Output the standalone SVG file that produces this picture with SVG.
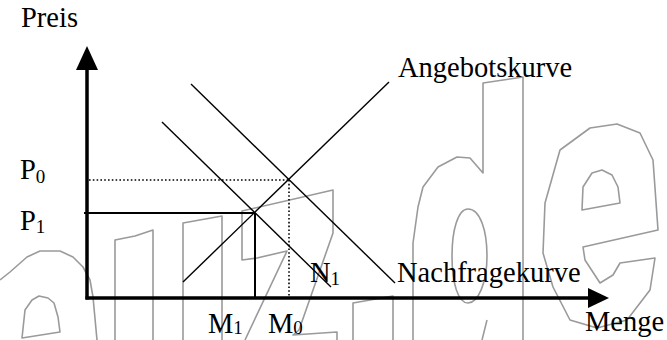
<svg xmlns="http://www.w3.org/2000/svg" width="667" height="340" viewBox="0 0 667 340">
<style>
.t{font-family:"Liberation Serif","Times New Roman",serif;font-size:28.5px;fill:#000}
.s{font-family:"Liberation Serif","Times New Roman",serif;font-size:19px;fill:#000}
.wm{fill:none;stroke:#9a9a9a;stroke-width:1.6;stroke-linejoin:round}
.ax{stroke:#000;stroke-width:3.5;fill:none}
.c{stroke:#000;stroke-width:1.4;fill:none}
.g{stroke:#000;stroke-width:2;fill:none}
.d{stroke:#000;stroke-width:1.6;fill:none;stroke-dasharray:1.6 2.2}
</style>
<rect width="667" height="340" fill="#fff"/>
<g id="watermark">
<path class="wm" d="M0,280 L10,272 L27,257 L40,251 L60,251 L73,257 L83,267 L90,280 L93,297 L97,340"/>
<path class="wm" d="M22,338 L25,310 L32,300 L39,296 L48,298 L54,303 L58,317 L60,332 Z"/>
<path class="wm" d="M115,340 L115,240 L135,236 L153,230 L153,340"/>
<path class="wm" d="M183,340 L183,223 L222,216 L222,340"/>
<path class="wm" d="M245,340 L287,251 L257,258 L242,260 L242,211 L333,190 L333,233 L299,330 L293,335 L337,332 L337,340"/>
<path class="wm" d="M353,340 L353,303 L393,296 L393,340"/>
<path class="wm" d="M413,340 L413,243 L418,207 L423,187 L438,167 L457,157 L470,158 L483,173 L483,83 L523,77 L523,340"/>
<path class="wm" d="M468,209 C480,209 487,230 487,256 C487,283 478,303 468,303 C458,303 452,283 452,256 C452,230 458,209 468,209 Z"/>
<path class="wm" d="M487,320 L482,340"/>
<path class="wm" d="M560,150 L590,128 L617,124 L640,133 L653,160 L658,230 L583,247 L585,260 L600,283 L613,275 L620,263 L655,258 L650,290 L627,320 L597,328 L570,320 L553,287 L543,253 L545,203 Z"/>
<path class="wm" d="M582,210 L583,187 L592,173 L602,170 L612,175 L618,187 L620,203 Z"/>
</g>
<g id="connectors">
<line class="d" x1="89" y1="180" x2="289" y2="180"/>
<line class="d" x1="289" y1="180" x2="289" y2="296"/>
<line class="g" x1="84" y1="213" x2="255" y2="213"/>
<line class="g" x1="255" y1="213" x2="255" y2="297"/>
<line class="c" x1="183" y1="282" x2="389" y2="82"/>
<line class="c" x1="191" y1="84" x2="395" y2="283"/>
<line class="c" x1="162" y1="122" x2="331" y2="287"/>
<line class="ax" x1="87" y1="299.5" x2="87" y2="68"/>
<line class="ax" x1="85.5" y1="298" x2="590" y2="298"/>
<polygon points="76,70 98,70 87,46" fill="#000"/>
<polygon points="588,288 588,308 609,298" fill="#000"/>
</g>
<g id="labels">
<text class="t" x="21" y="27">Preis</text>
<text class="t" x="398" y="77">Angebotskurve</text>
<text class="t" x="397" y="282">Nachfragekurve</text>
<text class="t" x="585" y="331">Menge</text>
<text class="t" x="20" y="179">P<tspan class="s" dy="4">0</tspan></text>
<text class="t" x="20" y="230">P<tspan class="s" dy="3">1</tspan></text>
<text class="t" x="208" y="333">M<tspan class="s" dy="1">1</tspan></text>
<text class="t" x="268" y="333">M<tspan class="s" dy="1">0</tspan></text>
<text class="t" x="310" y="282">N<tspan class="s" dy="3">1</tspan></text>
</g>
</svg>
